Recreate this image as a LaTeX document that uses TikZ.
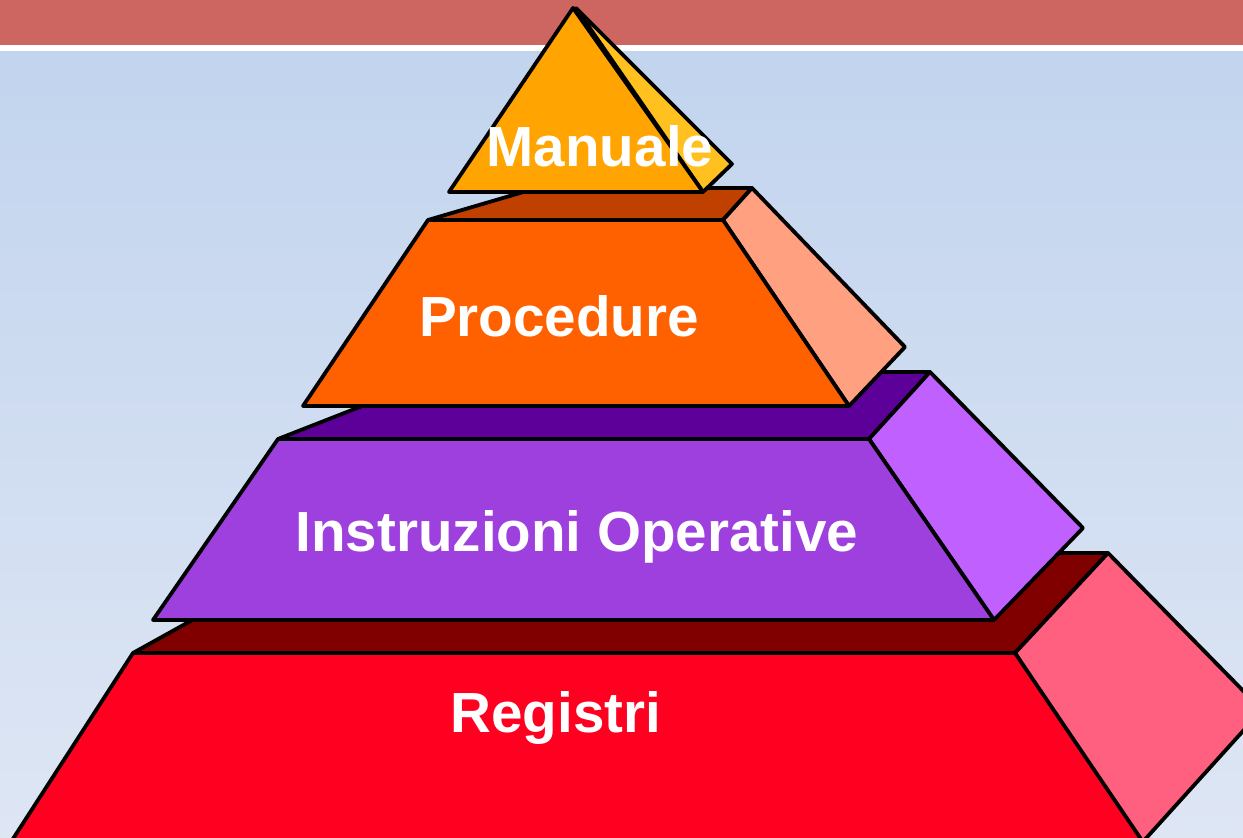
\documentclass[tikz,border=0pt]{standalone}
\usepackage{fontspec}
\setmainfont{Liberation Sans}
\usetikzlibrary{calc}

\definecolor{barred}{RGB}{205,102,96}
\definecolor{skytop}{RGB}{194,212,238}
\definecolor{skybot}{RGB}{222,230,244}
\definecolor{manfront}{RGB}{255,164,0}
\definecolor{manside}{RGB}{255,192,32}
\definecolor{profront}{RGB}{255,96,0}
\definecolor{protop}{RGB}{192,64,0}
\definecolor{proside}{RGB}{255,160,128}
\definecolor{insfront}{RGB}{158,64,222}
\definecolor{instop}{RGB}{92,0,153}
\definecolor{insside}{RGB}{191,96,255}
\definecolor{regfront}{RGB}{255,0,32}
\definecolor{regtop}{RGB}{128,0,0}
\definecolor{regside}{RGB}{255,96,128}

\tikzset{face/.style={draw=black,line width=1.9pt,line join=round},
         tierlabel/.style={text=white,font=\bfseries\fontsize{28.3}{34}\selectfont,anchor=base,inner sep=0pt}}

\begin{document}
\begin{tikzpicture}[x=0.5pt,y=-0.5pt]
                        \useasboundingbox (0,0) rectangle (1243,838);
                        \clip (0,0) rectangle (1243,838);
                        % background and header
                        \shade[top color=skytop,bottom color=skybot] (0,51) rectangle (1243,838);
                        \fill[barred] (0,0) rectangle (1243,45);
                        \fill[white] (0,45) rectangle (1243,51);
                        % Registri
                        \filldraw[face,fill=regtop] (133,653) -- (313,553) -- (1108,553) -- (1015,653) -- cycle;
                        \filldraw[face,fill=regside] (1015,653) -- (1108,553) -- (1262,710) -- (1140,845) -- cycle;
                        \filldraw[face,fill=regfront] (133,653) -- (1015,653) -- (1145,845) -- (9,845) -- cycle;
                        % Instruzioni Operative
                        \filldraw[face,fill=instop] (278,439) -- (449,372) -- (930,372) -- (869,439) -- cycle;
                        \filldraw[face,fill=insside] (869,439) -- (930,372) -- (1083,528) -- (994,620) -- cycle;
                        \filldraw[face,fill=insfront] (278,439) -- (869,439) -- (994,620) -- (153,620) -- cycle;
                        % Procedure
                        \filldraw[face,fill=protop] (428,220) -- (537,188) -- (752,188) -- (723,220) -- cycle;
                        \filldraw[face,fill=proside] (723,220) -- (752,188) -- (905,347) -- (849,406) -- cycle;
                        \filldraw[face,fill=profront] (428,220) -- (723,220) -- (849,406) -- (303,406) -- cycle;
                        % Manuale
                        \filldraw[face,fill=manside] (576,8) -- (732,164) -- (703,192) -- cycle;
                        \filldraw[face,fill=manfront] (573,8) -- (703,192) -- (449,192) -- cycle;
                        % labels
                        \node[tierlabel] (manuale) at (600,167) {Manuale};
                        \node[tierlabel] (procedure) at (559,337) {Procedure};
                        \node[tierlabel] (istruzioni) at (577,552) {Instruzioni Operative};
                        \node[tierlabel] (registri) at (556,733) {Registri};
                    \end{tikzpicture}
\end{document}
